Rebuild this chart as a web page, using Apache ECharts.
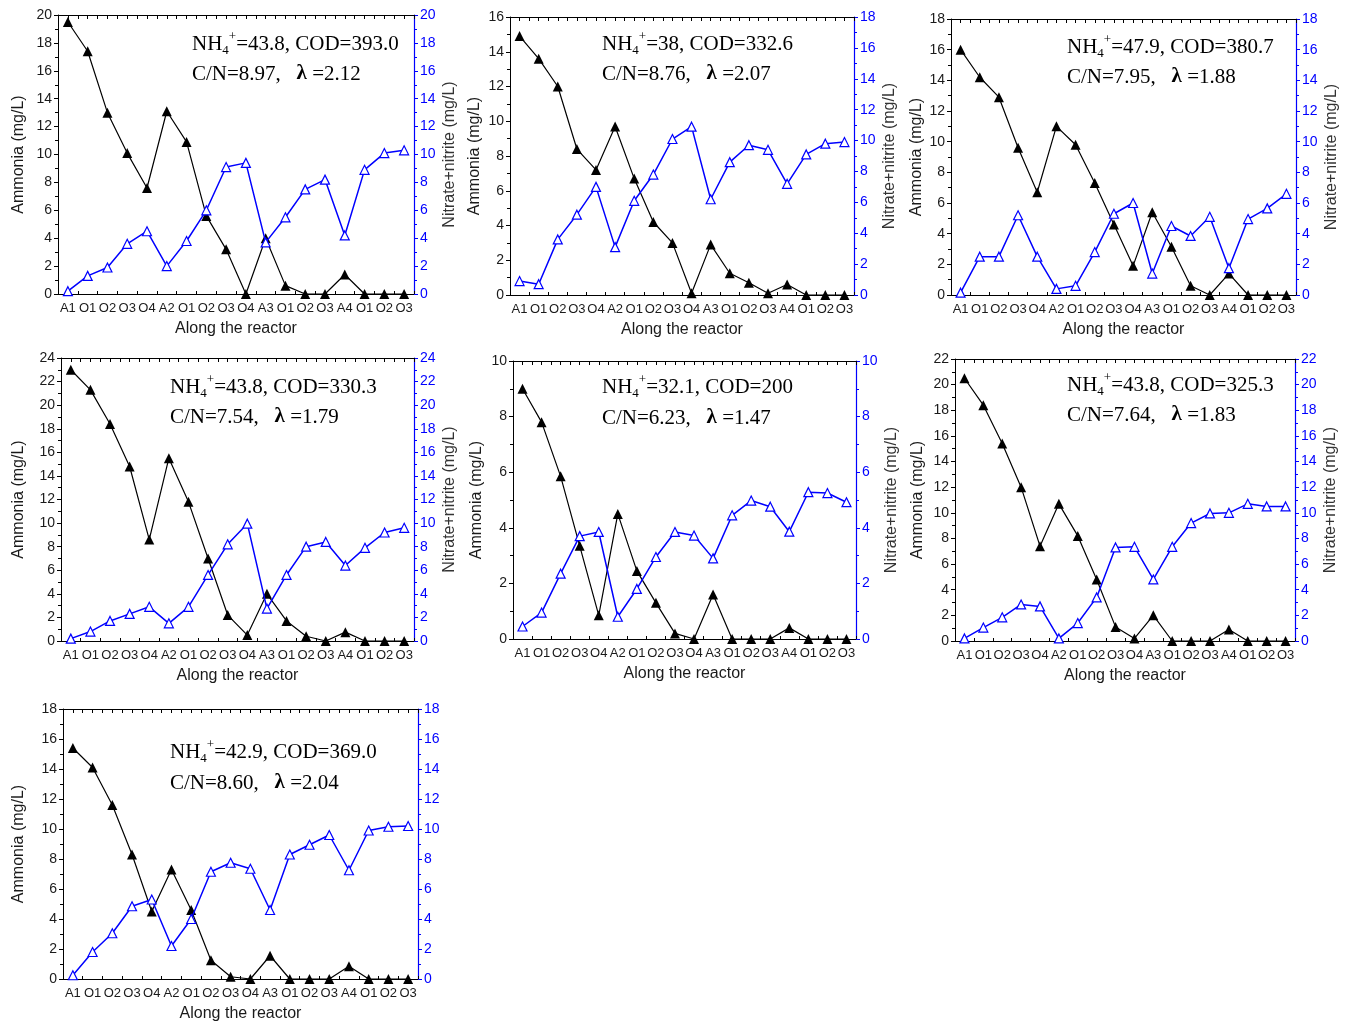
<!DOCTYPE html>
<html>
<head>
<meta charset="utf-8">
<script src="https://cdn.jsdelivr.net/npm/echarts@6/dist/echarts.min.js"></script>
<style>
html,body{margin:0;padding:0;background:#fff;}
#chart{width:1349px;height:1025px;}
</style>
</head>
<body>
<div id="chart"></div>
<script>
// ---------- DATA ----------
const categories = ['A1','O1','O2','O3','O4','A2','O1','O2','O3','O4','A3','O1','O2','O3','A4','O1','O2','O3'];

const ammonia1 = [19.5, 17.4, 13.0, 10.1, 7.6, 13.1, 10.9, 5.6, 3.2, 0, 4.0, 0.6, 0, 0, 1.4, 0, 0, 0];
const nitrate1 = [0.2, 1.3, 1.9, 3.6, 4.5, 2.0, 3.8, 6.0, 9.1, 9.4, 3.7, 5.5, 7.5, 8.2, 4.2, 8.9, 10.1, 10.3];

const ammonia2 = [14.9, 13.6, 12.0, 8.4, 7.2, 9.7, 6.7, 4.2, 3.0, 0.1, 2.9, 1.25, 0.7, 0.1, 0.6, 0, 0, 0];
const nitrate2 = [0.9, 0.7, 3.6, 5.2, 7.0, 3.1, 6.1, 7.8, 10.1, 10.9, 6.2, 8.6, 9.7, 9.4, 7.2, 9.1, 9.8, 9.9];

const ammonia3 = [16.0, 14.2, 12.9, 9.6, 6.7, 11.0, 9.8, 7.3, 4.6, 1.9, 5.4, 3.15, 0.6, 0, 1.4, 0, 0, 0];
const nitrate3 = [0.15, 2.5, 2.5, 5.2, 2.5, 0.4, 0.6, 2.8, 5.3, 6.0, 1.4, 4.5, 3.85, 5.1, 1.75, 4.95, 5.65, 6.6];

const ammonia4 = [23.0, 21.3, 18.4, 14.8, 8.6, 15.5, 11.8, 7.0, 2.2, 0.5, 4.0, 1.7, 0.4, 0, 0.75, 0, 0, 0];
const nitrate4 = [0.2, 0.8, 1.7, 2.3, 2.9, 1.5, 2.9, 5.6, 8.2, 9.95, 2.75, 5.6, 8.0, 8.4, 6.4, 7.9, 9.2, 9.6];

const ammonia5 = [9.0, 7.8, 5.85, 3.35, 0.85, 4.5, 2.45, 1.3, 0.2, 0, 1.6, 0, 0, 0, 0.4, 0, 0, 0];
const nitrate5 = [0.45, 0.95, 2.35, 3.7, 3.85, 0.8, 1.8, 2.95, 3.85, 3.72, 2.9, 4.45, 4.98, 4.76, 3.86, 5.28, 5.25, 4.92];

const ammonia6 = [20.5, 18.4, 15.4, 12.0, 7.4, 10.7, 8.2, 4.8, 1.1, 0.2, 2.0, 0, 0, 0, 0.9, 0, 0, 0];
const nitrate6 = [0.2, 1.05, 1.85, 2.85, 2.7, 0.2, 1.4, 3.4, 7.3, 7.35, 4.8, 7.35, 9.2, 9.95, 10.0, 10.7, 10.5, 10.5];

const ammonia7 = [15.4, 14.1, 11.6, 8.3, 4.5, 7.3, 4.6, 1.25, 0.15, 0, 1.55, 0, 0, 0, 0.85, 0, 0, 0];
const nitrate7 = [0.25, 1.8, 3.05, 4.85, 5.3, 2.2, 4.0, 7.15, 7.75, 7.35, 4.6, 8.3, 8.95, 9.6, 7.25, 9.9, 10.15, 10.2];

const leftMax  = [20, 16, 18, 24, 10, 22, 18];
const rightMax = [20, 18, 18, 24, 10, 22, 18];

const nh4Values    = ['43.8', '38', '47.9', '43.8', '32.1', '43.8', '42.9'];
const codValues    = ['393.0', '332.6', '380.7', '330.3', '200', '325.3', '369.0'];
const cnValues     = ['8.97', '8.76', '7.95', '7.54', '6.23', '7.64', '8.60'];
const lambdaValues = ['2.12', '2.07', '1.88', '1.79', '1.47', '1.83', '2.04'];

const ammoniaSets = [ammonia1, ammonia2, ammonia3, ammonia4, ammonia5, ammonia6, ammonia7];
const nitrateSets = [nitrate1, nitrate2, nitrate3, nitrate4, nitrate5, nitrate6, nitrate7];

// ---------- LAYOUT (pixels) ----------
// [leftAxisX, rightAxisX, topY, bottomY, annotX, annotLine1Y, annotLine2Y, leftNameGap, showRightName]
const layout = [
  [58, 414, 15, 294, 192, 44, 74, 31, true],
  [510, 854, 17, 295, 602, 44, 74, 27, true],
  [951, 1296, 19, 295, 1067, 47, 77, 26, true],
  [61, 414, 358, 641, 170, 387, 417, 34, true],
  [513, 856, 361, 639, 602, 387, 418, 28, true],
  [955, 1295, 359, 641, 1067, 385, 415, 29, true],
  [63, 418, 709, 979, 170, 752, 783, 36, false]
];

const SANS = "'Liberation Sans', Arial, Helvetica, sans-serif";
const SERIF = "'Liberation Serif', 'Times New Roman', Times, serif";
const BLUE = '#0000ff';
const INK = '#1a1a1a';

const grid = [], xAxis = [], yAxis = [], series = [], graphic = [];

layout.forEach(function (L, i) {
  const [lx, rx, ty, by, ax, a1, a2, lgap, showRight] = L;
  grid.push({ left: lx, top: ty, width: rx - lx, height: by - ty, containLabel: false });

  // bottom category axis
  xAxis.push({
    type: 'category', gridIndex: i, position: 'bottom', data: categories, boundaryGap: true,
    name: 'Along the reactor', nameLocation: 'middle', nameGap: 27,
    nameTextStyle: { fontFamily: SANS, fontSize: 16, color: INK },
    axisLine: { show: true, onZero: false, lineStyle: { color: '#000', width: 1 } },
    axisTick: { show: true, inside: true, length: 3, interval: 0, lineStyle: { color: '#000' } },
    axisLabel: { interval: 0, fontFamily: SANS, fontSize: 13, color: INK, margin: 8 },
    splitLine: { show: false }
  });
  // top value axis (frame with inward ticks)
  xAxis.push({
    type: 'value', gridIndex: i, position: 'top', min: -0.5, max: 17.5, interval: 0.5,
    axisLine: { show: true, onZero: false, lineStyle: { color: '#000', width: 1 } },
    axisTick: { show: true, inside: true, length: 4, lineStyle: { color: '#000' } },
    axisLabel: { show: false },
    splitLine: { show: false }
  });

  yAxis.push({
    type: 'value', gridIndex: i, position: 'left', min: 0, max: leftMax[i], interval: 2,
    name: 'Ammonia (mg/L)', nameLocation: 'middle', nameRotate: 90, nameGap: lgap,
    nameTextStyle: { fontFamily: SANS, fontSize: 16, color: INK },
    axisLine: { show: true, onZero: false, lineStyle: { color: '#000', width: 1 } },
    axisTick: { show: true, inside: false, length: 4, lineStyle: { color: '#000' } },
    minorTick: { show: true, splitNumber: 2, length: 3, lineStyle: { color: '#000' } },
    axisLabel: { fontFamily: SANS, fontSize: 14, color: INK, margin: 6 },
    splitLine: { show: false }, minorSplitLine: { show: false }
  });
  yAxis.push({
    type: 'value', gridIndex: i, position: 'right', min: 0, max: rightMax[i], interval: 2,
    name: showRight ? 'Nitrate+nitrite (mg/L)' : '', nameLocation: 'middle', nameRotate: 90, nameGap: 28,
    nameTextStyle: { fontFamily: SANS, fontSize: 16, color: '#333' },
    axisLine: { show: true, onZero: false, lineStyle: { color: BLUE, width: 1.2 } },
    axisTick: { show: true, inside: false, length: 4, lineStyle: { color: BLUE } },
    minorTick: { show: true, splitNumber: 2, length: 3, lineStyle: { color: BLUE } },
    axisLabel: { fontFamily: SANS, fontSize: 14, color: BLUE, margin: 6 },
    splitLine: { show: false }, minorSplitLine: { show: false }
  });

  series.push({
    type: 'line', name: 'Ammonia', xAxisIndex: 2 * i, yAxisIndex: 2 * i,
    data: ammoniaSets[i], symbol: 'triangle', symbolSize: 10, showAllSymbol: true,
    lineStyle: { color: '#000', width: 1.2 }, itemStyle: { color: '#000' }, z: 3, clip: false
  });
  series.push({
    type: 'line', name: 'Nitrate+nitrite', xAxisIndex: 2 * i, yAxisIndex: 2 * i + 1,
    data: nitrateSets[i], symbol: 'triangle', symbolSize: 9, showAllSymbol: true,
    lineStyle: { color: BLUE, width: 1.5 },
    itemStyle: { color: '#fff', borderColor: BLUE, borderWidth: 1.2 }, z: 4, clip: false
  });

  const rich = {
    n: { fontFamily: SERIF, fontSize: 21, lineHeight: 27, color: INK },
    sub: { fontFamily: SERIF, fontSize: 13, lineHeight: 13, verticalAlign: 'bottom', color: INK },
    sup: { fontFamily: SERIF, fontSize: 13, lineHeight: 13, verticalAlign: 'top', color: INK },
    b: { fontFamily: SERIF, fontSize: 21, fontWeight: 'bold', lineHeight: 27, color: INK }
  };
  graphic.push({
    type: 'text', x: ax, y: a1, z: 10,
    style: {
      text: '{n|NH}{sub|4}{sup|+}{n|=' + nh4Values[i] + ', COD=' + codValues[i] + '}',
      rich: rich, verticalAlign: 'middle', align: 'left'
    }
  });
  graphic.push({
    type: 'text', x: ax, y: a2, z: 10,
    style: {
      text: '{n|C/N=' + cnValues[i] + ',   }{b|λ}{n| =' + lambdaValues[i] + '}',
      rich: rich, verticalAlign: 'middle', align: 'left'
    }
  });
});

const chart = echarts.init(document.getElementById('chart'), null, { renderer: 'canvas' });
chart.setOption({
  animation: false,
  backgroundColor: '#fff',
  grid: grid, xAxis: xAxis, yAxis: yAxis, series: series, graphic: graphic
});
</script>
</body>
</html>
